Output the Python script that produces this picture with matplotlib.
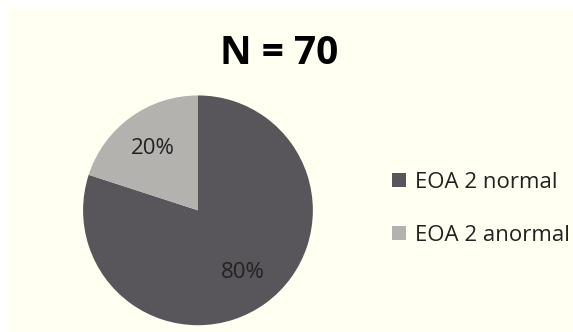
import matplotlib.pyplot as plt

labels = ['EOA 2 normal', 'EOA 2 anormal']
values = [80, 20]
colors = ['#58565b', '#b4b2af']
title = 'N = 70'

plt.rcParams['font.family'] = ['Open Sans', 'DejaVu Sans']

fig = plt.figure(figsize=(5.73, 3.32), dpi=100, facecolor='white')
# cream panel with thin white margin at top and left
bg = fig.add_axes([7 / 573, 0, 1 - 7 / 573, 1 - 7 / 332], zorder=-1)
bg.set_facecolor('#fffff2')
bg.set_xticks([])
bg.set_yticks([])
for s in bg.spines.values():
    s.set_visible(False)

ax = fig.add_axes([0.145, 0.02, 0.401, 0.693])
wedges, texts, autotexts = ax.pie(values, colors=colors, startangle=90, counterclock=False,
                                  autopct='%1.0f%%', pctdistance=0.67,
                                  textprops={'fontsize': 16, 'color': '#222222'})
ax.set_xlim(-1, 1)
ax.set_ylim(-1, 1)
ax.set_aspect('equal')

fig.text(0.487, 0.84, title, ha='center', va='center', fontsize=28, fontweight='bold')

fig.legend(wedges, labels, loc='center left', bbox_to_anchor=(0.65, 0.37),
           frameon=False, fontsize=16, handlelength=0.6, handleheight=0.6,
           handletextpad=0.4, labelspacing=1.45, labelcolor='#222222')

fig.savefig('out.png', dpi=100, facecolor=fig.get_facecolor())
